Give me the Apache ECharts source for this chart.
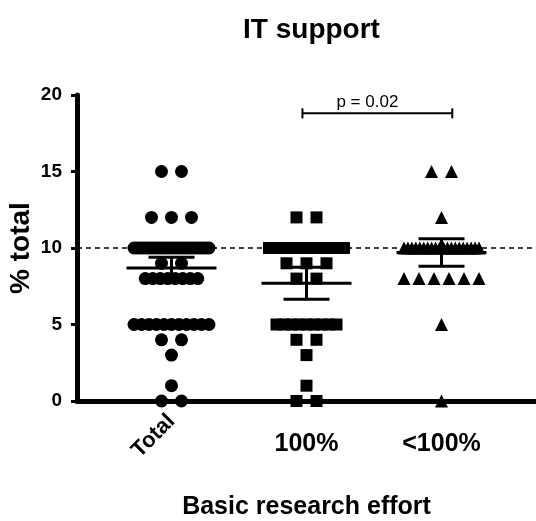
<!DOCTYPE html>
<html>
<head>
<meta charset="utf-8">
<script src="https://cdn.jsdelivr.net/npm/echarts@6/dist/echarts.min.js"></script>
<style>
  html, body { margin: 0; padding: 0; background: #fff; }
  #chart { width: 536px; height: 521px; }
</style>
</head>
<body>
<div id="chart"></div>
<script>
// Groups along the x axis (positions 1, 2, 3)
const groupNames = ['Total', '100%', '<100%'];

// Individual responses (% of total effort spent on IT support)
const totalValues = [
  15, 15, 12, 12, 12,
  10, 10, 10, 10, 10, 10, 10, 10, 10, 10, 10, 10, 10,
  10, 10, 10, 10, 10, 10, 10, 10, 10, 10, 10, 10, 10,
  9, 9,
  8, 8, 8, 8, 8, 8, 8, 8,
  5, 5, 5, 5, 5, 5, 5, 5, 5, 5, 5,
  4, 4, 3, 1, 0, 0
];
const fullEffortValues = [
  12, 12,
  10, 10, 10, 10, 10, 10, 10, 10, 10, 10, 10, 10, 10,
  10, 10, 10, 10, 10, 10, 10, 10, 10, 10, 10, 10, 10,
  9, 9, 9, 8, 8,
  5, 5, 5, 5, 5, 5, 5, 5, 5,
  4, 4, 3, 1, 0, 0
];
const partialEffortValues = [
  15, 15, 12,
  10, 10, 10, 10, 10, 10, 10, 10, 10, 10,
  10, 10, 10, 10, 10, 10, 10, 10, 10, 10,
  8, 8, 8, 8, 8, 8,
  5, 0
];

// Mean and standard error of each group
const groupMeans = [8.7, 7.7, 9.7];
const groupSems = [0.7, 1.05, 0.9];

// Reference level, y ticks and significance annotation
const referenceLevel = 10;
const yTickValues = [0, 5, 10, 15, 20];
const comparison = { from: 2, to: 3, level: 18.8, label: 'p = 0.02' };

// ---- layout ----
const FONT = '"Liberation Sans", Arial, Helvetica, sans-serif';
const GRID = { left: 77, right: 0, top: 95, bottom: 120 };
const X_MIN = 0.3, X_MAX = 3.7;
const CHART_W = 536;
const pxPerUnit = (CHART_W - GRID.left - GRID.right) / (X_MAX - X_MIN);

// Spread tied values sideways around the group centre (dot-plot layout)
function spreadPoints(values, centre) {
  const counts = {};
  values.forEach(v => { counts[v] = (counts[v] || 0) + 1; });
  const seen = {};
  return values.map(v => {
    const n = counts[v];
    const i = seen[v] = (seen[v] === undefined ? 0 : seen[v] + 1);
    const stepPx = n <= 3 ? 20 : (n <= 6 ? 15 : Math.max(3, Math.min(7.5, 75 / (n - 1))));
    const offset = (i - (n - 1) / 2) * stepPx / pxPerUnit;
    return [centre + offset, v];
  });
}

const groupValues = [totalValues, fullEffortValues, partialEffortValues];
const groupSymbols = ['circle', 'rect', 'triangle'];
const groupSymbolSizes = [13, 12, 13];

const pointSeries = groupValues.map((vals, gi) => ({
  type: 'scatter',
  name: groupNames[gi],
  data: spreadPoints(vals, gi + 1),
  symbol: groupSymbols[gi],
  symbolSize: groupSymbolSizes[gi],
  itemStyle: { color: '#000', opacity: 1 },
  emphasis: { disabled: true },
  z: 3
}));

const chart = echarts.init(document.getElementById('chart'), null, { renderer: 'canvas' });

chart.setOption({
  animation: false,
  backgroundColor: '#fff',
  title: {
    text: 'IT support',
    left: GRID.left + (CHART_W - GRID.left - GRID.right) / 2,
    textAlign: 'center',
    top: 11,
    textStyle: { fontFamily: FONT, fontWeight: 'bold', fontSize: 28, color: '#000' }
  },
  grid: Object.assign({ outerBoundsMode: 'none', containLabel: false }, GRID),
  xAxis: [{
    type: 'value',
    min: X_MIN,
    max: X_MAX,
    splitLine: { show: false },
    axisLine: { show: true, onZero: false, lineStyle: { color: '#000', width: 5 } },
    axisTick: { show: false },
    axisLabel: {
      customValues: [1],
      formatter: v => groupNames[Math.round(v) - 1],
      rotate: 45,
      margin: 17,
      color: '#000',
      fontFamily: FONT,
      fontWeight: 'bold',
      fontSize: 22
    },
    name: 'Basic research effort',
    nameLocation: 'middle',
    nameGap: 94,
    nameMoveOverlap: false,
    nameTextStyle: { fontFamily: FONT, fontWeight: 'bold', fontSize: 25, color: '#000' }
  }, {
    type: 'value',
    position: 'bottom',
    min: X_MIN,
    max: X_MAX,
    splitLine: { show: false },
    axisLine: { show: false },
    axisTick: { show: false },
    axisLabel: {
      customValues: [2, 3],
      formatter: v => groupNames[Math.round(v) - 1],
      margin: 31,
      color: '#000',
      fontFamily: FONT,
      fontWeight: 'bold',
      fontSize: 25
    }
  }],
  yAxis: {
    type: 'value',
    min: 0,
    max: 20,
    interval: 5,
    splitLine: { show: false },
    axisLine: { show: true, lineStyle: { color: '#000', width: 5 } },
    axisTick: { show: true, length: 6, lineStyle: { color: '#000', width: 3 }, customValues: yTickValues },
    axisLabel: {
      customValues: yTickValues,
      margin: 15,
      color: '#000',
      fontFamily: FONT,
      fontWeight: 'bold',
      fontSize: 19
    },
    name: '% total',
    nameLocation: 'middle',
    nameGap: 42,
    nameMoveOverlap: false,
    nameTextStyle: { fontFamily: FONT, fontWeight: 'bold', fontSize: 28, color: '#000' }
  },
  series: [
    // dashed reference level
    {
      type: 'custom',
      data: [[referenceLevel]],
      z: 1,
      silent: true,
      renderItem: (params, api) => {
        const a = api.coord([X_MIN, api.value(0)]);
        const b = api.coord([X_MAX, api.value(0)]);
        return {
          type: 'line',
          shape: { x1: a[0], y1: a[1], x2: b[0], y2: b[1] },
          style: { stroke: '#000', lineWidth: 1.6, lineDash: [5, 4] }
        };
      }
    },
    ...pointSeries,
    // mean ± SEM bars
    {
      type: 'custom',
      data: groupMeans.map((m, i) => [i + 1, m, groupSems[i]]),
      z: 5,
      silent: true,
      renderItem: (params, api) => {
        const x = api.value(0), m = api.value(1), s = api.value(2);
        const c = api.coord([x, m]);
        const hi = api.coord([x, m + s]);
        const lo = api.coord([x, m - s]);
        const meanHalf = 45, capHalf = 23;
        const st = { stroke: '#000', lineWidth: 3 };
        return {
          type: 'group',
          children: [
            { type: 'line', shape: { x1: c[0] - meanHalf, y1: c[1], x2: c[0] + meanHalf, y2: c[1] }, style: st },
            { type: 'line', shape: { x1: hi[0], y1: hi[1], x2: lo[0], y2: lo[1] }, style: st },
            { type: 'line', shape: { x1: hi[0] - capHalf, y1: hi[1], x2: hi[0] + capHalf, y2: hi[1] }, style: st },
            { type: 'line', shape: { x1: lo[0] - capHalf, y1: lo[1], x2: lo[0] + capHalf, y2: lo[1] }, style: st }
          ]
        };
      }
    },
    // significance bracket between the two effort groups
    {
      type: 'custom',
      data: [[comparison.from, comparison.to, comparison.level]],
      z: 5,
      silent: true,
      renderItem: (params, api) => {
        const a = api.coord([api.value(0) - 0.03, api.value(2)]);
        const b = api.coord([api.value(1) + 0.08, api.value(2)]);
        const st = { stroke: '#000', lineWidth: 2 };
        return {
          type: 'group',
          children: [
            { type: 'line', shape: { x1: a[0], y1: a[1], x2: b[0], y2: b[1] }, style: st },
            { type: 'line', shape: { x1: a[0], y1: a[1] - 5, x2: a[0], y2: a[1] + 5 }, style: st },
            { type: 'line', shape: { x1: b[0], y1: b[1] - 5, x2: b[0], y2: b[1] + 5 }, style: st },
            {
              type: 'text',
              x: (a[0] + b[0]) / 2 - 10,
              y: a[1] - 3,
              style: {
                text: comparison.label,
                fill: '#000',
                font: '17px ' + FONT,
                textAlign: 'center',
                textVerticalAlign: 'bottom'
              }
            }
          ]
        };
      }
    }
  ]
});
</script>
</body>
</html>
